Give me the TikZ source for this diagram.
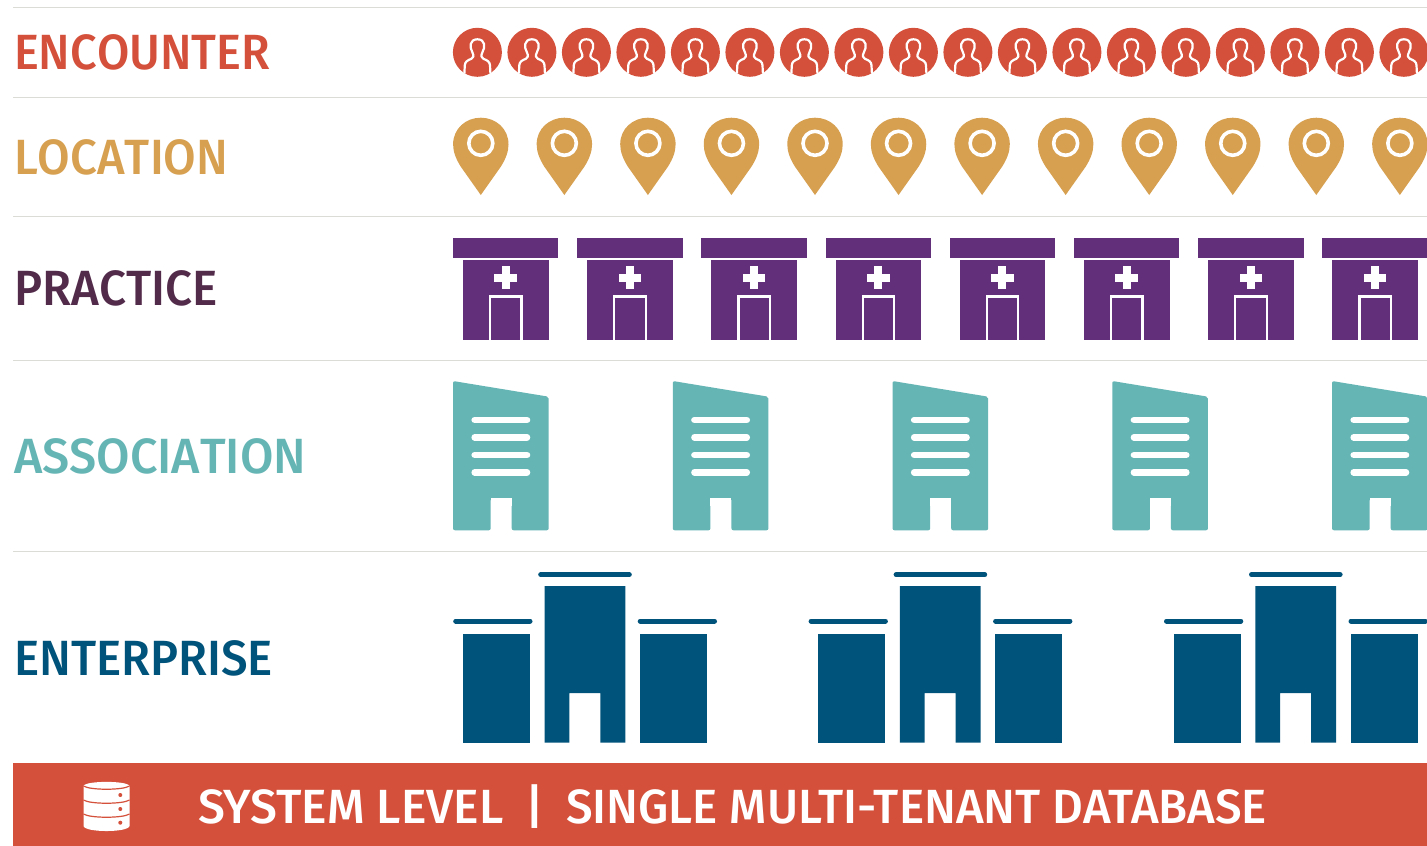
\documentclass[tikz,border=0pt]{standalone}
\usepackage{fontspec}
\setmainfont{Fira Sans}
\newfontfamily\medfont[Kerning=Off]{Fira Sans Medium}
\newfontfamily\banfont{Fira Sans Medium}
\definecolor{enc}{HTML}{D4503A}
\definecolor{loc}{HTML}{D6A050}
\definecolor{pracT}{HTML}{522A4A}
\definecolor{prac}{HTML}{62307A}
\definecolor{assoc}{HTML}{66B5B5}
\definecolor{ent}{HTML}{00537A}
\definecolor{rule}{HTML}{DCDCD6}
\tikzset{
  rowlabel/.style={anchor=base west,inner sep=0pt,outer sep=0pt,font=\medfont\fontsize{49.5pt}{49.5pt}\selectfont},
  bannertext/.style={anchor=base west,inner sep=0pt,outer sep=0pt,text=white,font=\banfont\fontsize{48pt}{48pt}\selectfont},
  rowrule/.style={draw=rule,line width=1.1pt},
  personpic/.pic={
    \fill[enc] (0,0) circle (24.5);
    \draw[white,line width=2.2pt,line join=round] (-13,21) -- (-12.6,13) .. controls (-12.4,9.5) and (-10,8) .. (-6,6.5) .. controls (-3.5,5.5) and (-3.5,3.5) .. (-5,0) .. controls (-8,-5) and (-8,-13) .. (0,-13) .. controls (8,-13) and (8,-5) .. (5,0) .. controls (3.5,3.5) and (3.5,5.5) .. (6,6.5) .. controls (10,8) and (12.4,9.5) .. (12.6,13) -- (13,21);
  },
  pinpic/.pic={
    \fill[loc] (0,77.3) -- (-20,49) .. controls (-25,41) and (-27.7,34) .. (-27.7,26.5) .. controls (-27.7,11) and (-15,0) .. (0,0) .. controls (15,0) and (27.7,11) .. (27.7,26.5) .. controls (27.7,34) and (25,41) .. (20,49) -- cycle;
    \draw[white,line width=3.6pt] (0,25.6) circle (12);
  },
  clinicpic/.pic={
    \fill[prac] (0,0) rectangle (105.3,20.5);
    \fill[prac] (10,22.5) rectangle (95.5,102);
    \fill[white] (48.5,28.7) rectangle (56.5,51.7);
    \fill[white] (41.3,36.2) rectangle (64,44.2);
    \draw[white,line width=2.2pt] (37,102) -- (37,59) -- (68.5,59) -- (68.5,102);
  },
  officepic/.pic={
    \fill[assoc,rounded corners=2pt] (0,0) -- (95.7,15.7) -- (95.7,149.3) -- (58.7,149.3) -- (58.7,117.3) -- (37.7,117.3) -- (37.7,149.3) -- (0,149.3) -- cycle;
    \fill[white] (37.7,117.3) rectangle (58.7,125);
    \foreach \yy in {39,56.3,74,91.3}
      \draw[white,line width=6.6pt,line cap=round] (21.7,\yy) -- (74,\yy);
  },
  campuspic/.pic={
    \draw[ent,line width=5pt,line cap=round] (2.7,47) -- (77,47);
    \fill[ent] (10,60) rectangle (77,168.7);
    \draw[ent,line width=5pt,line cap=round] (87.7,0.7) -- (176.3,0.7);
    \fill[ent] (91.5,12) -- (172.3,12) -- (172.3,168.7) -- (147.3,168.7) -- (147.3,119) -- (116.3,119) -- (116.3,168.7) -- (91.5,168.7) -- cycle;
    \draw[ent,line width=5pt,line cap=round] (187.2,47) -- (261.5,47);
    \fill[ent] (187,60) rectangle (254,168.7);
  },
}
\begin{document}
\begin{tikzpicture}[x=1pt,y=-1pt]
\useasboundingbox (0,0) rectangle (1427,846);
\clip (0,0) rectangle (1427,846);
\fill[white] (0,0) rectangle (1427,846);
% rules
\foreach \yy in {7.5,97.5,216.5,360.5,551.5}
  \draw[rowrule] (13,\yy) -- (1427,\yy);
% labels
\node[rowlabel,text=enc] (encounter) at (14,69) {\scalebox{.948}[1]{ENCOUNTER}};
\node[rowlabel,text=loc] (location) at (14,174.5) {\scalebox{.955}[1]{LOCATION}};
\node[rowlabel,text=pracT] (practice) at (14,305.5) {\scalebox{.962}[1]{PRACTICE}};
\node[rowlabel,text=assoc] (association) at (14,473) {\scalebox{.98}[1]{ASSOCIATION}};
\node[rowlabel,text=ent] (enterprise) at (14,675.5) {\scalebox{.959}[1]{ENTERPRISE}};
% icons
\foreach \i in {0,...,17} \pic at ({477.4+54.5*\i},52.3) {personpic};
\foreach \i in {0,...,11} \pic at ({480.8+83.55*\i},117.7) {pinpic};
\foreach \i in {0,...,7} \pic at ({453+124.2*\i},237.5) {clinicpic};
\foreach \i in {0,...,4} \pic at ({453+219.75*\i},381) {officepic};
\foreach \i in {0,1,2} \pic at ({453+355.4*\i},574) {campuspic};
% banner
\fill[enc] (13,763) rectangle (1427,846);
\fill[white] (83.5,786) .. controls (85,780.5) and (128,780.5) .. (129.5,786) -- (129.5,826) .. controls (128,832.7) and (85,832.7) .. (83.5,826) -- cycle;
\draw[enc,line width=1.2pt] (83.5,786) .. controls (90,790.3) and (123,790.3) .. (129.5,786);
\draw[enc,line width=1.2pt] (83.5,800) .. controls (90,804.3) and (123,804.3) .. (129.5,800);
\draw[enc,line width=1.2pt] (83.5,814) .. controls (90,818.3) and (123,818.3) .. (129.5,814);
\foreach \yy in {795,809,822.7} \fill[enc] (120.3,\yy) circle (2);
\node[bannertext] (banner) at (198,823) {SYSTEM LEVEL\hspace{0.46em}|\hspace{0.46em}\scalebox{.989}[1]{SINGLE MULTI-TENANT DATABASE}};
\end{tikzpicture}
\end{document}
